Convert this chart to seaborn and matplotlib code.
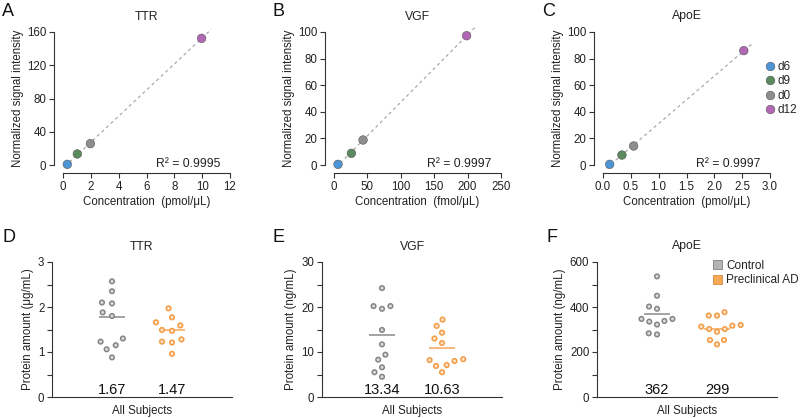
import numpy as np
import pandas as pd
import matplotlib
matplotlib.use("Agg")
import matplotlib.pyplot as plt
from matplotlib.lines import Line2D
from matplotlib.patches import Patch
import seaborn as sns

# ----------------------------
# Data
# ----------------------------
std_labels = ["d6", "d9", "d0", "d12"]
std_colors = ["#4d94d6", "#5a8a5e", "#8e8e8e", "#b267b5"]

ttr_conc = [0.31, 1.03, 1.97, 9.96]
ttr_signal = [0.8, 13.3, 25.7, 152.4]
vgf_conc = [6, 26, 43.5, 198.5]
vgf_signal = [0.5, 8.8, 18.8, 97.2]
apoe_conc = [0.12, 0.34, 0.55, 2.53]
apoe_signal = [0.5, 7.5, 14.3, 86.0]

groups = ["Control", "Preclinical AD"]
ttr_ctrl = [2.57, 2.35, 2.08, 2.10, 1.88, 1.80, 1.23, 1.30, 1.06, 1.15, 0.88]
ttr_ad = [1.97, 1.77, 1.66, 1.59, 1.47, 1.49, 1.23, 1.28, 1.21, 0.96]
vgf_ctrl = [24.2, 20.2, 19.6, 20.2, 14.9, 11.7, 8.3, 9.4, 6.6, 5.5, 4.5]
vgf_ad = [17.2, 15.8, 12.0, 13.0, 14.3, 8.2, 8.4, 8.0, 6.9, 7.1, 5.5]
apoe_ctrl = [536, 450, 402, 392, 347, 338, 322, 335, 347, 283, 278]
apoe_ad = [377, 362, 362, 313, 317, 320, 302, 290, 302, 253, 253, 234]

ttr_lines = [1.78, 1.50]
vgf_lines = [13.8, 10.9]
apoe_lines = [368, 302]
ttr_means = ["1.67", "1.47"]
vgf_means = ["13.34", "10.63"]
apoe_means = ["362", "299"]

# ----------------------------
# Style
# ----------------------------
sns.set_style("ticks")
plt.rcParams["font.family"] = ["Liberation Sans", "DejaVu Sans"]
plt.rcParams["axes.edgecolor"] = "#333333"
plt.rcParams["axes.linewidth"] = 0.8
plt.rcParams["xtick.color"] = "#333333"
plt.rcParams["ytick.color"] = "#333333"
plt.rcParams["xtick.labelcolor"] = "#222222"
plt.rcParams["ytick.labelcolor"] = "#222222"
plt.rcParams["xtick.major.size"] = 3.5
plt.rcParams["ytick.major.size"] = 3.5
plt.rcParams["ytick.minor.size"] = 3.5
plt.rcParams["xtick.major.width"] = 0.8
plt.rcParams["ytick.major.width"] = 0.8
plt.rcParams["ytick.minor.width"] = 0.8

W, H = 800, 418
fig = plt.figure(figsize=(W / 100, H / 100), dpi=100)
FS = 8.3


def px_axes(x0, y0, x1, y1):
    """Axes from pixel box (left, top, right, bottom)."""
    return fig.add_axes([x0 / W, 1 - y1 / H, (x1 - x0) / W, (y1 - y0) / H])


# ----------------------------
# Top row: standard curves
# ----------------------------
top_specs = [
    ("A", "TTR", ttr_conc, ttr_signal, 63, (0, 12), np.arange(0, 13, 2),
     (0, 160), np.arange(0, 161, 40), "Concentration  (pmol/\u03bcL)", "R\u00b2 = 0.9995", None),
    ("B", "VGF", vgf_conc, vgf_signal, 334, (0, 250), np.arange(0, 251, 50),
     (0, 100), np.arange(0, 101, 20), "Concentration  (fmol/\u03bcL)", "R\u00b2 = 0.9997", None),
    ("C", "ApoE", apoe_conc, apoe_signal, 603, (0, 3), np.arange(0, 3.01, 0.5),
     (0, 100), np.arange(0, 101, 20), "Concentration  (pmol/\u03bcL)", "R\u00b2 = 0.9997", "%.1f"),
]

for letter, name, conc, sig, left, xlim, xticks, ylim, yticks, xlabel, r2, fmt in top_specs:
    ax = px_axes(left, 32, left + 167, 165)
    df = pd.DataFrame({"conc": conc, "signal": sig, "std": std_labels})
    slope, icpt = np.polyfit(df["conc"], df["signal"], 1)
    xs = np.array([min(conc) * 0.5, max(conc) * 1.07])
    ax.plot(xs, slope * xs + icpt, ls=(0, (2.5, 2.5)), color="#aaaaaa", lw=0.9,
            zorder=1, clip_on=False)
    sns.scatterplot(data=df, x="conc", y="signal", hue="std", palette=std_colors,
                    s=38, edgecolor="#555555", linewidth=0.4, legend=False,
                    ax=ax, zorder=3, clip_on=False)
    ax.set_xlim(*xlim)
    ax.set_ylim(*ylim)
    ax.set_xticks(xticks)
    ax.set_yticks(yticks)
    if fmt:
        ax.set_xticklabels([fmt % t for t in xticks])
    ax.tick_params(labelsize=FS, pad=2)
    sns.despine(ax=ax)
    ax.spines["left"].set_position(("outward", 6.5))
    ax.spines["bottom"].set_position(("outward", 6))
    ax.set_xlabel(xlabel, fontsize=FS, labelpad=2, color="#222222")
    ax.set_ylabel("Normalized signal intensity", fontsize=FS, labelpad=2, color="#222222")
    ax.set_title(name, fontsize=8.8, pad=9, color="#222222")
    ax.text(0.945, 0.005, r2, transform=ax.transAxes, ha="right", va="center",
            fontsize=8.8, color="#222222")
    fig.text((left - 61) / W, 1 - 11 / H, letter, fontsize=13, va="center",
             ha="left", color="#111111")

# legend for standards
std_handles = [Line2D([], [], marker="o", ls="", markerfacecolor=c,
                      markeredgecolor="#555555", markeredgewidth=0.4, markersize=6.2)
               for c in std_colors]
fig.legend(std_handles, std_labels, loc="upper left", bbox_to_anchor=(762 / W, 1 - 61 / H),
           frameon=False, fontsize=8.5, handletextpad=0.0, labelspacing=0.2,
           borderpad=0, borderaxespad=0, handlelength=1.3)

# ----------------------------
# Bottom row: subject measurements
# ----------------------------
face_cols = ["#dadada", "#fde3c8"]
edge_cols = ["#858585", "#f39b45"]
line_cols = ["#8a8a8a", "#f5a55a"]

bottom_specs = [
    ("D", "TTR", ttr_ctrl, ttr_ad, ttr_lines, ttr_means, 52, 3, "Protein amount (\u03bcg/mL)", 5.8),
    ("E", "VGF", vgf_ctrl, vgf_ad, vgf_lines, vgf_means, 322, 30, "Protein amount (ng/mL)", 5.0),
    ("F", "ApoE", apoe_ctrl, apoe_ad, apoe_lines, apoe_means, 597, 600, "Protein amount (ng/mL)", 4.6),
]

swarm_colls = []
for letter, name, ctrl, ad, lines, means, left, ymax, ylabel, swarm_size in bottom_specs:
    ax = px_axes(left, 262, left + 180, 397)
    df = pd.DataFrame({"group": [groups[0]] * len(ctrl) + [groups[1]] * len(ad),
                       "value": ctrl + ad})
    # swarm laid out with a wide footprint; markers are shrunk after layout
    sns.swarmplot(data=df, x="group", y="value", hue="group", order=groups,
                  hue_order=groups, palette=face_cols, size=swarm_size, linewidth=1.1,
                  legend=False, ax=ax, zorder=3)
    for coll in ax.collections:
        fc = matplotlib.colors.to_hex(coll.get_facecolor()[0])
        coll.set_edgecolor(edge_cols[face_cols.index(fc)] if fc in face_cols else "#858585")
        swarm_colls.append(coll)
    for i, (lv, lc) in enumerate(zip(lines, line_cols)):
        ax.hlines(lv, i - 0.22, i + 0.22, color=lc, lw=1.1, zorder=2)
    for i, m in enumerate(means):
        ax.text(i, 0.0, m, transform=ax.get_xaxis_transform(), ha="center",
                va="bottom", fontsize=10.5, color="#111111")
    ax.set_xlim(-1, 2)
    ax.set_ylim(0, ymax)
    ax.set_xticks([])
    ax.set_yticks(np.linspace(0, ymax, 4))
    ax.set_yticks(np.linspace(0, ymax, 7), minor=True)
    ax.yaxis.set_major_formatter(matplotlib.ticker.FormatStrFormatter("%d"))
    ax.tick_params(labelsize=FS, pad=2)
    sns.despine(ax=ax)
    ax.set_xlabel("All Subjects", fontsize=FS, labelpad=6, color="#222222")
    ax.set_ylabel(ylabel, fontsize=FS, labelpad=3, color="#222222")
    ax.set_title(name, fontsize=8.8, pad=9, color="#222222")
    fig.text((left - 50) / W, 1 - 238 / H, letter, fontsize=13, va="center",
             ha="left", color="#111111")

grp_handles = [Patch(facecolor="#b4b4b4", edgecolor="#808080", lw=0.6),
               Patch(facecolor="#f6a855", edgecolor="#d98a3a", lw=0.6)]
fig.legend(grp_handles, groups, loc="upper left", bbox_to_anchor=(713 / W, 1 - 260 / H),
           frameon=False, fontsize=8.5, handletextpad=0.3, labelspacing=0.2,
           borderpad=0, borderaxespad=0, handlelength=0.8, handleheight=0.8)

# run the beeswarm layout once, then freeze it and draw smaller markers
fig.canvas.draw()
for coll in swarm_colls:
    if "draw" in coll.__dict__:
        del coll.draw
    coll.set_sizes([3.3 ** 2])

fig.savefig("out.png", dpi=100)
